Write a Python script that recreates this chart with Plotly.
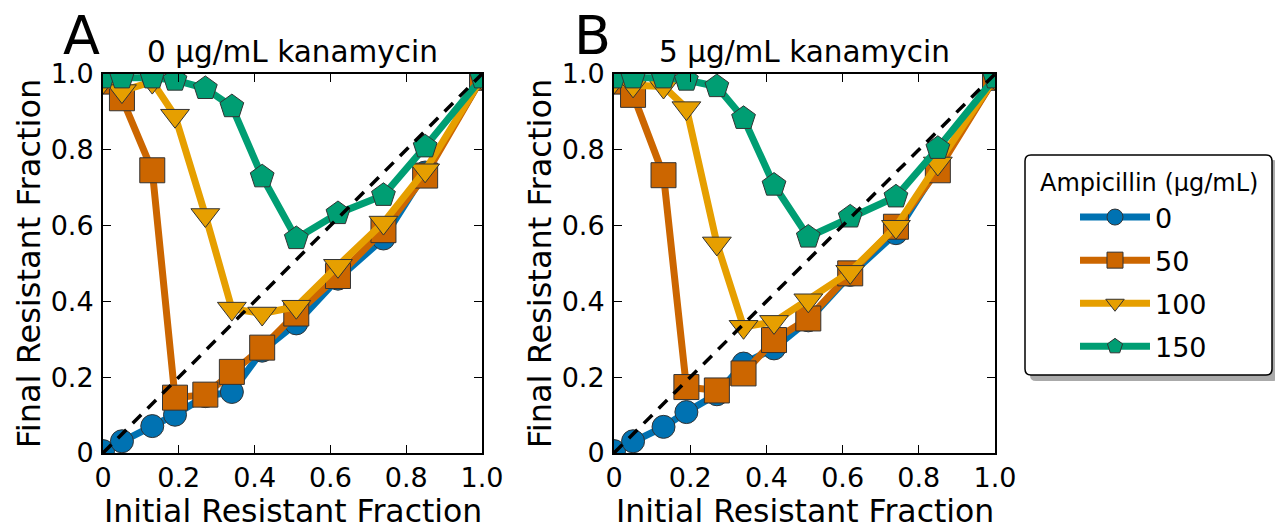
import plotly.graph_objects as go

x_init = [0, 0.05, 0.13, 0.19, 0.27, 0.34, 0.42, 0.51, 0.62, 0.74, 0.85, 1.0]

# Panel A: 0 ug/mL kanamycin
a_amp0 = [0.005, 0.031, 0.071, 0.101, 0.15, 0.161, 0.27, 0.342, 0.46, 0.566, 0.74, 0.99]
a_amp50 = [0.98, 0.936, 0.746, 0.146, 0.154, 0.214, 0.278, 0.368, 0.467, 0.588, 0.732, 0.99]
a_amp100 = [0.98, 0.955, 0.98, 0.89, 0.628, 0.381, 0.368, 0.386, 0.494, 0.608, 0.746, 0.99]
a_amp150 = [0.99, 0.99, 0.99, 0.984, 0.962, 0.914, 0.729, 0.566, 0.632, 0.68, 0.808, 0.99]

# Panel B: 5 ug/mL kanamycin
b_amp0 = [0.005, 0.031, 0.069, 0.108, 0.155, 0.236, 0.276, 0.35, 0.47, 0.58, 0.75, 0.99]
b_amp50 = [0.98, 0.945, 0.733, 0.174, 0.165, 0.21, 0.298, 0.355, 0.474, 0.597, 0.746, 0.99]
b_amp100 = [0.98, 0.97, 0.967, 0.91, 0.553, 0.333, 0.346, 0.403, 0.478, 0.597, 0.764, 0.99]
b_amp150 = [0.99, 0.99, 0.99, 0.984, 0.967, 0.883, 0.707, 0.57, 0.623, 0.676, 0.804, 0.99]

series_names = ["0", "50", "100", "150"]
colors = ["#0072B2", "#CC6600", "#E69F00", "#009E73"]
symbols = ["circle", "square", "triangle-down", "pentagon"]
marker_sizes = [23, 25, 25, 25]

panel_titles = ["0 µg/mL kanamycin", "5 µg/mL kanamycin"]
panel_letters = ["A", "B"]
x_label = "Initial Resistant Fraction"
y_label = "Final Resistant Fraction"
tick_vals = [0, 0.2, 0.4, 0.6, 0.8, 1.0]
tick_text = ["0", "0.2", "0.4", "0.6", "0.8", "1.0"]
legend_title = "Ampicillin (µg/mL)"

FONT = "DejaVu Sans"
W, H = 1275, 529

fig = go.Figure()

panels = [(a_amp0, a_amp50, a_amp100, a_amp150), (b_amp0, b_amp50, b_amp100, b_amp150)]
for p, data in enumerate(panels):
    xa = "x" if p == 0 else "x2"
    ya = "y" if p == 0 else "y2"
    for i, ys in enumerate(data):
        fig.add_trace(go.Scatter(
            x=x_init, y=ys, mode="lines+markers", name=series_names[i],
            legendgroup=series_names[i], showlegend=(p == 0),
            line=dict(color=colors[i], width=7),
            marker=dict(symbol=symbols[i], size=marker_sizes[i], color=colors[i],
                        line=dict(color="#333333", width=1)),
            xaxis=xa, yaxis=ya,
        ))
    fig.add_trace(go.Scatter(
        x=[0, 1], y=[0, 1], mode="lines", showlegend=False,
        line=dict(color="black", width=3.5, dash="12px,9px"),
        xaxis=xa, yaxis=ya, hoverinfo="skip",
    ))

domains_x = [[103 / W, 482 / W], [614 / W, 995 / W]]
dom_y = [1 - 453 / H, 1 - 74 / H]

axis_common = dict(
    range=[0, 1.0], tickvals=tick_vals, ticktext=tick_text,
    ticks="inside", ticklen=8, tickwidth=1, tickcolor="black",
    showline=True, linecolor="black", linewidth=2, mirror="ticks",
    showgrid=False, zeroline=False, automargin=False,
    tickfont=dict(family=FONT, size=27, color="black"),
)

for p in range(2):
    sfx = "" if p == 0 else "2"
    fig.layout["xaxis" + sfx] = go.layout.XAxis(
        domain=domains_x[p], anchor="y" + sfx, **axis_common)
    fig.layout["yaxis" + sfx] = go.layout.YAxis(
        domain=dom_y, anchor="x" + sfx, ticklabelstandoff=2,
        title=dict(text=y_label, font=dict(family=FONT, size=32, color="black"), standoff=0),
        **axis_common)

annotations = []
for p in range(2):
    cx = (domains_x[p][0] + domains_x[p][1]) / 2
    annotations.append(dict(text=panel_titles[p], x=cx, y=1 - 52 / H, xref="paper", yref="paper",
                            showarrow=False, font=dict(family=FONT, size=29.5, color="black"),
                            xanchor="center", yanchor="middle"))
    annotations.append(dict(text=panel_letters[p], x=(domains_x[p][0] * W - 42) / W, y=1 - 36 / H,
                            xref="paper", yref="paper", showarrow=False,
                            font=dict(family=FONT, size=54, color="black"),
                            xanchor="left", yanchor="middle"))
    annotations.append(dict(text=x_label, x=cx, y=1 - 511 / H, xref="paper", yref="paper",
                            showarrow=False, font=dict(family=FONT, size=31.5, color="black"),
                            xanchor="center", yanchor="middle"))
annotations.append(dict(text=legend_title, x=1149 / W, y=1 - 183 / H, xref="paper", yref="paper",
                        showarrow=False, font=dict(family=FONT, size=24, color="black"),
                        xanchor="center", yanchor="middle"))


def rounded_rect(x0, y0, x1, y1, r):
    # pixel coords (top-left origin) -> paper coords path
    def px(x):
        return x / W

    def py(y):
        return 1 - y / H
    return (f"M {px(x0 + r)},{py(y0)} L {px(x1 - r)},{py(y0)} "
            f"Q {px(x1)},{py(y0)} {px(x1)},{py(y0 + r)} L {px(x1)},{py(y1 - r)} "
            f"Q {px(x1)},{py(y1)} {px(x1 - r)},{py(y1)} L {px(x0 + r)},{py(y1)} "
            f"Q {px(x0)},{py(y1)} {px(x0)},{py(y1 - r)} L {px(x0)},{py(y0 + r)} "
            f"Q {px(x0)},{py(y0)} {px(x0 + r)},{py(y0)} Z")


shapes = [
    dict(type="path", xref="paper", yref="paper", path=rounded_rect(1030, 160, 1279, 381, 6),
         fillcolor="#aaaaaa", line=dict(width=0), layer="above"),
    dict(type="path", xref="paper", yref="paper", path=rounded_rect(1025, 155, 1272, 375, 6),
         fillcolor="white", line=dict(color="black", width=1.5), layer="above"),
]

fig.update_layout(
    width=W, height=H,
    margin=dict(l=0, r=0, t=0, b=0),
    paper_bgcolor="white", plot_bgcolor="white",
    annotations=annotations,
    shapes=shapes,
    showlegend=True,
    legend=dict(
        x=1075 / W, y=1 - 193 / H, xanchor="left", yanchor="top",
        bgcolor="rgba(0,0,0,0)", borderwidth=0,
        font=dict(family=FONT, size=27, color="black"),
        itemsizing="trace", itemwidth=70, tracegroupgap=5,
    ),
)

fig.write_html("out.html")
